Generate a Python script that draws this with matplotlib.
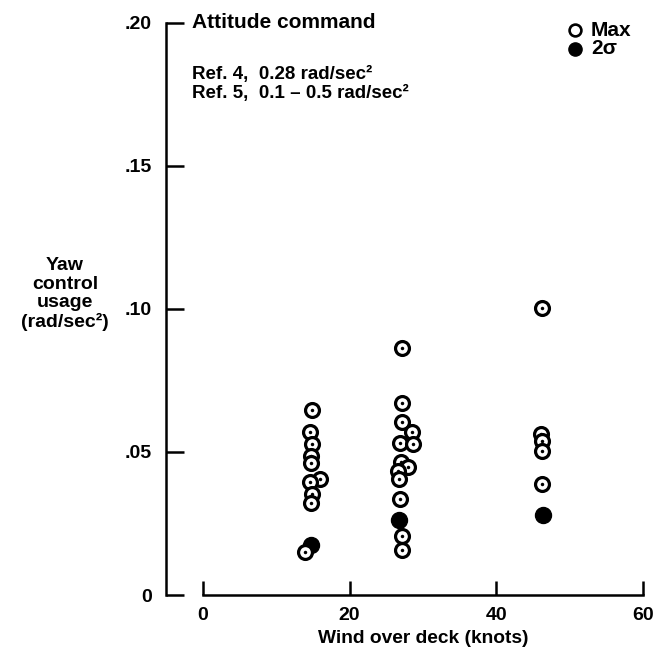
import matplotlib
matplotlib.use("Agg")
import matplotlib.pyplot as plt

# ---- data ---------------------------------------------------------------
# maximum yaw control usage per run (open symbols)
wind_max = [14.9, 14.6, 14.9, 14.8, 14.8, 16.0, 14.6, 14.9, 14.8, 13.9,
            27.2, 27.2, 27.2, 28.5, 26.8, 28.6, 27.0, 27.9, 26.6, 26.7,
            26.8, 27.2, 27.2,
            46.2, 46.1, 46.2, 46.2, 46.2]
usage_max = [0.0645, 0.0571, 0.0527, 0.0486, 0.0460, 0.0406, 0.0396, 0.0354,
             0.0321, 0.0151,
             0.0863, 0.0672, 0.0603, 0.0568, 0.0530, 0.0527, 0.0464, 0.0447,
             0.0433, 0.0406, 0.0336, 0.0205, 0.0159,
             0.1002, 0.0562, 0.0538, 0.0503, 0.0388]

# 2-sigma yaw control usage (filled symbols)
wind_2s = [14.8, 26.7, 46.4]
usage_2s = [0.0174, 0.0263, 0.0278]

x_ticks = [0, 20, 40, 60]
y_ticks = [0, 0.05, 0.10, 0.15, 0.20]
y_tick_labels = ["0", ".05", ".10", ".15", ".20"]

legend_labels = ["Max", "2\u03c3"]
title_text = "Attitude command"
ref_lines = ["Ref. 4,  0.28 rad/sec\u00b2", "Ref. 5,  0.1 \u2013 0.5 rad/sec\u00b2"]
y_label = "Yaw\ncontrol\nusage\n(rad/sec\u00b2)"
x_label = "Wind over deck (knots)"

# ---- style --------------------------------------------------------------
plt.rcParams["font.family"] = ["Liberation Sans", "DejaVu Sans"]
plt.rcParams["font.weight"] = "bold"

FS = 14
W, H = 667, 657
fig = plt.figure(figsize=(W / 100, H / 100), dpi=100)


def fx(px):
    return px / W


def fy(py):
    return 1 - py / H


# axes box: x from -5 to 60 knots, y from 0 to 0.20
left_px, right_px = 166, 643.3
bottom_px, top_px = 595, 22.7
ax = fig.add_axes([fx(left_px), fy(bottom_px),
                   (right_px - left_px) / W, (bottom_px - top_px) / H])
ax.set_xlim(-5, 60)
ax.set_ylim(0, 0.20)

for side in ("top", "right"):
    ax.spines[side].set_visible(False)
ax.spines["left"].set_linewidth(1.8)
ax.spines["bottom"].set_linewidth(1.8)
ax.spines["left"].set_bounds(0, 0.20)
ax.spines["bottom"].set_bounds(0, 60)

ax.set_xticks(x_ticks)
ax.set_xticklabels([str(t) for t in x_ticks])
ax.set_yticks(y_ticks)
ax.set_yticklabels(y_tick_labels)
ax.tick_params(axis="x", direction="in", length=10, width=1.8, pad=9,
               labelsize=FS)
ax.tick_params(axis="y", direction="in", length=13, width=1.8, pad=10,
               labelsize=FS)
for lab in ax.get_xticklabels() + ax.get_yticklabels():
    lab.set_fontweight("bold")

ax.set_xlabel(x_label, fontsize=13.8, fontweight="bold")
ax.xaxis.set_label_coords((30 + 5) / 65, -0.062)
ax.xaxis.label.set_va("top")

ax.set_ylabel(y_label, fontsize=FS, fontweight="bold", rotation=0,
              ha="center", va="center", linespacing=1.12)
ax.yaxis.set_label_coords(-0.2116, 0.526)

# ---- points: drawn top to bottom so lower symbols sit over upper ones ----
pts = [(w, u, "max") for w, u in zip(wind_max, usage_max)]
pts += [(w, u, "2s") for w, u in zip(wind_2s, usage_2s)]
pts.sort(key=lambda p: -p[1])

z = 3
for w, u, kind in pts:
    if kind == "max":
        ax.plot([w], [u], marker="o", ms=10, mew=2.3, mfc="white",
                mec="black", ls="none", zorder=z, clip_on=False)
        ax.plot([w], [u], marker="o", ms=2.5, mew=0, mfc="black",
                ls="none", zorder=z + 0.5, clip_on=False)
    else:
        ax.plot([w], [u], marker="o", ms=11.5, mew=1, mfc="black",
                mec="black", ls="none", zorder=z, clip_on=False)
    z += 1

# ---- key ----------------------------------------------------------------
key_y = [30, 49]
key_styles = [dict(mfc="white", mec="black", mew=1.9, ms=8.5),
              dict(mfc="black", mec="black", mew=1, ms=9.5)]
for yy, lab, st in zip(key_y, legend_labels, key_styles):
    fig.add_artist(plt.Line2D([fx(575)], [fy(yy)], marker="o", ls="none",
                              transform=fig.transFigure, **st))
    fig.text(fx(591), fy(yy), lab, fontsize=15, fontweight="bold",
             ha="left", va="center")

# ---- annotation ----------------------------------------------------------
fig.text(fx(192), fy(22), title_text, fontsize=15, fontweight="bold",
         ha="left", va="center")
for yy, line in zip([74, 93], ref_lines):
    fig.text(fx(192), fy(yy), line, fontsize=13.5, fontweight="bold",
             ha="left", va="center")

fig.savefig("out.png", dpi=100)
